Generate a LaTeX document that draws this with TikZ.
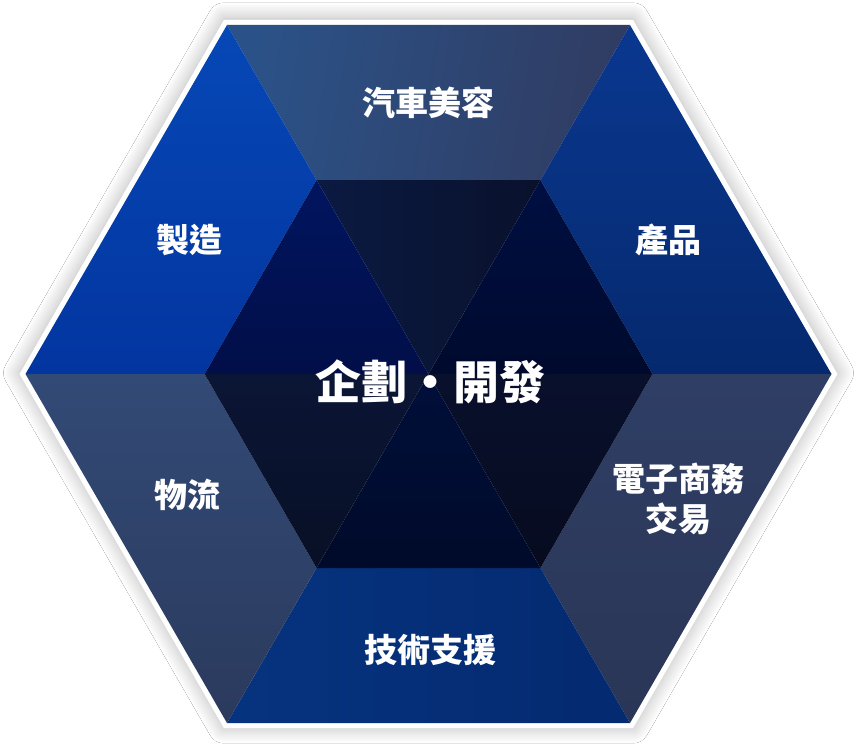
\documentclass[tikz,border=0pt]{standalone}
\usepackage{fontspec}
\newfontfamily\cjk{Noto Sans CJK TC}
\usetikzlibrary{shadows.blur}
\definecolor{tA}{HTML}{2B5288}
\definecolor{tB}{HTML}{303C62}
\definecolor{ulA}{HTML}{0648B6}
\definecolor{ulB}{HTML}{0335A0}
\definecolor{urA}{HTML}{0A3890}
\definecolor{urB}{HTML}{05296E}
\definecolor{lrA}{HTML}{2F3E65}
\definecolor{lrB}{HTML}{2A3656}
\definecolor{bA}{HTML}{06337F}
\definecolor{bB}{HTML}{042A70}
\definecolor{llA}{HTML}{324A76}
\definecolor{llB}{HTML}{2B3A5D}
\definecolor{itA}{HTML}{0B1A42}
\definecolor{itB}{HTML}{09112C}
\definecolor{iulA}{HTML}{01155F}
\definecolor{iulB}{HTML}{010E48}
\definecolor{iurA}{HTML}{000F42}
\definecolor{iurB}{HTML}{000A2E}
\definecolor{ilrA}{HTML}{09102C}
\definecolor{ilrB}{HTML}{060B1F}
\definecolor{ibA}{HTML}{000F3A}
\definecolor{ibB}{HTML}{000A2A}
\definecolor{illA}{HTML}{0B1535}
\definecolor{illB}{HTML}{081026}
\tikzset{
  lbl/.style={text=white, font=\cjk\bfseries\fontsize{33}{40}\selectfont, align=center, inner sep=0pt},
  mainlbl/.style={text=white, font=\cjk\bfseries\fontsize{46}{50}\selectfont, inner sep=0pt},
}
\begin{document}
\begin{tikzpicture}[x=1pt,y=-1pt]
\useasboundingbox (0,0) rectangle (858,752);
\fill[white] (0,0) rectangle (858,752);
% centre and vertices
\coordinate (c) at (428.5,374);
\coordinate (o0) at (831.5,374);
\coordinate (o60) at (630,25);
\coordinate (o120) at (227,25);
\coordinate (o180) at (25.5,374);
\coordinate (o240) at (227,723);
\coordinate (o300) at (630,723);
\coordinate (i0) at (652.5,374);
\coordinate (i60) at (540.5,180);
\coordinate (i120) at (316.5,180);
\coordinate (i180) at (204.5,374);
\coordinate (i240) at (316.5,568);
\coordinate (i300) at (540.5,568);
% white frame with shadow
\fill[white, blur shadow={shadow xshift=0pt, shadow yshift=1pt, shadow blur radius=16pt, shadow blur steps=30, shadow opacity=30}]
  (837.5,374) -- (633,19.8) -- (224,19.8) -- (19.5,374) -- (224,728.2) -- (633,728.2) -- cycle;
% outer trapezoids
\shade[left color=tA, right color=tB, shading angle=80] (o120) -- (o60) -- (i60) -- (i120) -- cycle;
\shade[top color=ulA, bottom color=ulB] (o180) -- (o120) -- (i120) -- (i180) -- cycle;
\shade[top color=urA, bottom color=urB] (o60) -- (o0) -- (i0) -- (i60) -- cycle;
\shade[top color=lrA, bottom color=lrB] (o0) -- (o300) -- (i300) -- (i0) -- cycle;
\shade[left color=bA, right color=bB] (o300) -- (o240) -- (i240) -- (i300) -- cycle;
\shade[top color=llA, bottom color=llB] (o240) -- (o180) -- (i180) -- (i240) -- cycle;
% inner triangles
\shade[left color=itA, right color=itB] (i120) -- (i60) -- (c) -- cycle;
\shade[top color=iulA, bottom color=iulB] (i180) -- (i120) -- (c) -- cycle;
\shade[top color=iurA, bottom color=iurB] (i60) -- (i0) -- (c) -- cycle;
\shade[top color=ilrA, bottom color=ilrB] (i0) -- (i300) -- (c) -- cycle;
\shade[top color=ibA, bottom color=ibB] (i300) -- (i240) -- (c) -- cycle;
\shade[top color=illA, bottom color=illB] (i240) -- (i180) -- (c) -- cycle;
% labels
\node[lbl] (top) at (428.5,103) {汽車美容};
\node[lbl] (ul) at (189,240) {製造};
\node[lbl] (ur) at (668,240) {產品};
\node[lbl] (ll) at (187,495) {物流};
\node[lbl] (lr) at (678,499) {電子商務\\交易};
\node[lbl] (bot) at (430,650) {技術支援};
\node[mainlbl] (mid) at (430,382) {企劃・開發};
\end{tikzpicture}
\end{document}
